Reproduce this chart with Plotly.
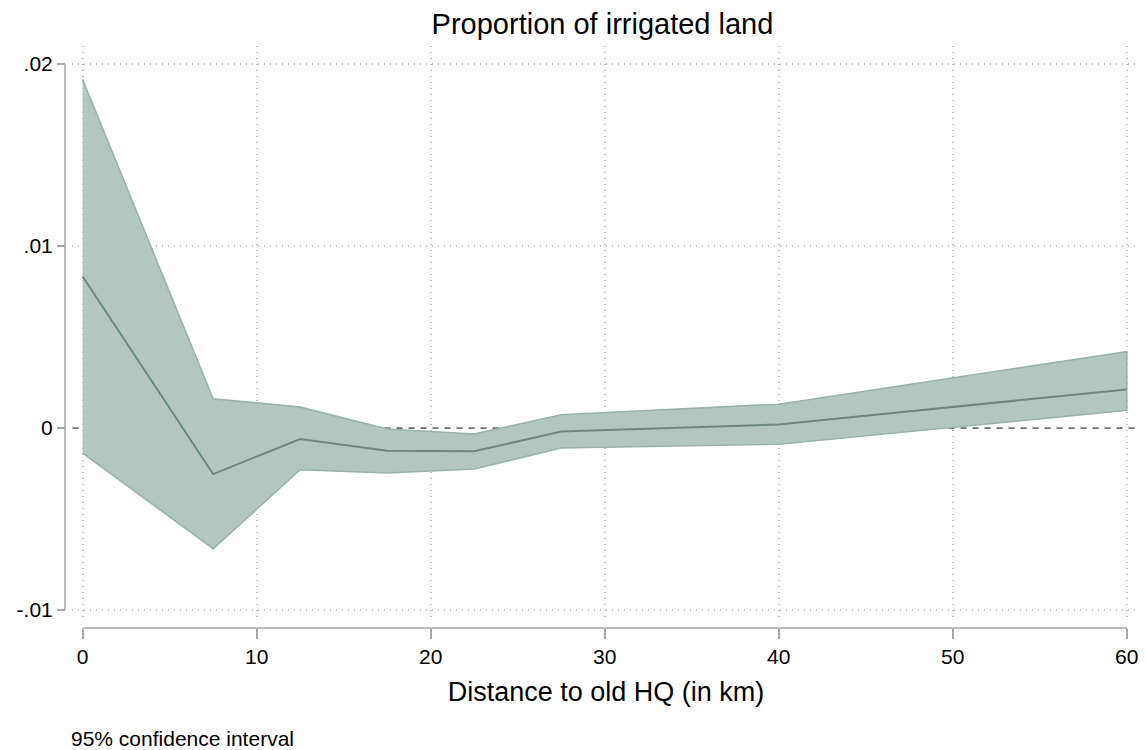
import plotly.graph_objects as go

# Data
distance = [0, 7.5, 12.5, 17.5, 22.5, 27.5, 40, 60]
estimate = [0.00833, -0.00253, -0.00060, -0.00125, -0.00128, -0.00019, 0.00020, 0.00212]
ci_upper = [0.01914, 0.00161, 0.00115, -0.00005, -0.00033, 0.00073, 0.00131, 0.00420]
ci_lower = [-0.00137, -0.00663, -0.00229, -0.00247, -0.00225, -0.00110, -0.00089, 0.00097]

x_ticks = [0, 10, 20, 30, 40, 50, 60]
y_ticks = [-0.01, 0, 0.01, 0.02]
y_tick_labels = ["-.01", "0", ".01", ".02"]

FONT = "Liberation Sans, Arial, Helvetica, sans-serif"
AXIS_GRAY = "#a6a6a6"
GRID = "#bdbdbd"

fig = go.Figure()

# Confidence band polygon
fig.add_trace(go.Scatter(
    x=distance + distance[::-1],
    y=ci_upper + ci_lower[::-1],
    fill="toself",
    fillcolor="rgb(180,198,192)",
    line=dict(color="rgb(152,180,170)", width=1.6),
    mode="lines",
    hoverinfo="skip",
    showlegend=False,
))

# Point estimate
fig.add_trace(go.Scatter(
    x=distance, y=estimate,
    mode="lines",
    line=dict(color="rgb(110,136,127)", width=2),
    showlegend=False,
))

W, H = 1146, 750
ml, mr, mt, mb = 65, 6, 46, 122
pw = W - ml - mr
ph = H - mt - mb

fig.update_layout(
    width=W, height=H,
    margin=dict(l=ml, r=mr, t=mt, b=mb),
    paper_bgcolor="white",
    plot_bgcolor="white",
    font=dict(family=FONT, color="black"),
    title=dict(
        text="Proportion of irrigated land",
        x=0.5, xanchor="center", xref="paper",
        y=1 - 24 / H, yanchor="middle", yref="container",
        font=dict(size=29, family=FONT, color="black"),
    ),
    xaxis=dict(
        domain=[7 / pw, 1],
        range=[-0.61, 60.76],
        anchor="free", position=0,
        tickvals=x_ticks,
        ticks="outside", ticklen=10, tickwidth=1.5, tickcolor=AXIS_GRAY,
        tickfont=dict(size=21, family=FONT, color="black"),
        showline=False, zeroline=False,
        showgrid=True, gridcolor=GRID, griddash="1px,5px", gridwidth=1.5,
        title=dict(text="Distance to old HQ (in km)", standoff=14,
                   font=dict(size=27, family=FONT, color="black")),
    ),
    yaxis=dict(
        domain=[(628 - 621.7) / ph, 1],
        range=[-0.01064, 0.02099],
        anchor="free", position=0,
        tickvals=y_ticks, ticktext=y_tick_labels,
        ticks="outside", ticklen=8, tickwidth=1.5, tickcolor=AXIS_GRAY,
        tickfont=dict(size=21, family=FONT, color="black"),
        showline=False, zeroline=False,
        showgrid=True, gridcolor=GRID, griddash="1px,5px", gridwidth=1.5,
    ),
    shapes=[
        # y axis line (spans tick range only)
        dict(type="line", xref="paper", yref="y", x0=0, x1=0,
             y0=-0.01, y1=0.02, line=dict(color=AXIS_GRAY, width=1.5), layer="above"),
        # x axis line
        dict(type="line", xref="x", yref="paper", x0=0, x1=60,
             y0=0, y1=0, line=dict(color=AXIS_GRAY, width=1.5), layer="above"),
        # reference line at zero
        dict(type="line", xref="paper", yref="y", x0=7 / pw, x1=1,
             y0=0, y1=0, line=dict(color="#6e6e6e", width=1.8, dash="7px,5px"), layer="below"),
    ],
    annotations=[
        dict(text="95% confidence interval", xref="paper", yref="paper",
             x=4 / pw, y=(628 - 738) / ph, xanchor="left", yanchor="middle",
             showarrow=False, font=dict(size=21, family=FONT, color="black")),
    ],
)

fig.write_html("out.html")
